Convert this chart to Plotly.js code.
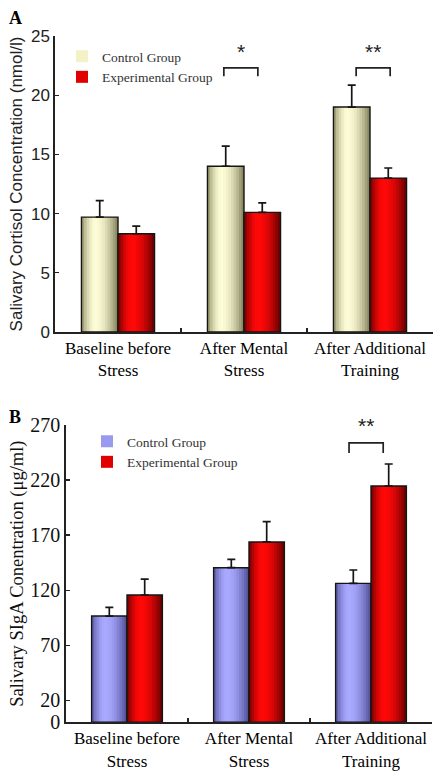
<!DOCTYPE html>
<html>
<head>
<meta charset="utf-8">
<script src="https://cdn.plot.ly/plotly-3.0.1.min.js"></script>
<style>html,body{margin:0;padding:0;background:#fff;}#chart{width:444px;height:777px;}</style>
</head>
<body>
<div id="chart"></div>
<script>
// ---- data ----
const categories = ['Baseline before<br>Stress', 'After Mental<br>Stress', 'After Additional<br>Training'];
const seriesNames = ['Control Group', 'Experimental Group'];
const cortisolControl = [9.7, 14.0, 19.0];
const cortisolControlErr = [1.4, 1.7, 1.85];
const cortisolExp = [8.3, 10.1, 13.0];
const cortisolExpErr = [0.65, 0.8, 0.85];
const sigaControl = [96.5, 140.4, 126.2];
const sigaControlErr = [7.9, 7.6, 12.1];
const sigaExp = [115.6, 163.8, 214.6];
const sigaExpErr = [14.4, 18.4, 20.0];
const sigaTicks = [0, 20, 70, 120, 170, 220, 270];

// ---- styling helpers ----
const SERIF = 'Liberation Serif, Times New Roman, serif';
const SANS = 'Liberation Sans, Arial, sans-serif';
const BW = 0.29;      // bar width in category units
const NSTRIP = 14;

function hex(c){return [parseInt(c.substr(1,2),16),parseInt(c.substr(3,2),16),parseInt(c.substr(5,2),16)];}
function mix(a,b,w){const A=hex(a),B=hex(b);return 'rgb('+A.map((v,i)=>Math.round(v+(B[i]-v)*w)).join(',')+')';}
function shadeAt(t, edgeL, peak, edgeR){
  const p = 0.38;
  if (t < p){ const u=(p-t)/p; return mix(peak, edgeL, Math.pow(u,1.8)); }
  const u=(t-p)/(1-p); return mix(peak, edgeR, Math.pow(u,1.8));
}

const traces = [];
function addSeries(y, err, side, colors, xa, ya, legendName, legendId){
  const left = side === 0 ? -BW : 0;
  const sw = BW / NSTRIP;
  for (let k = 0; k < NSTRIP; k++){
    const t = (k + 0.5) / NSTRIP;
    // nested strips: each strip runs to the right end of the bar, so no gaps appear
    traces.push({
      type:'bar', x:categories, y:y, xaxis:xa, yaxis:ya,
      offset:left + k*sw, width:BW - k*sw,
      marker:{color: shadeAt(t, colors[0], colors[1], colors[2]), line:{width:0}},
      name:legendName, showlegend:false, hoverinfo:'skip'
    });
  }
  // legend entry (hairline bar at the bar's edge, only used for its legend swatch)
  traces.push({
    type:'bar', x:categories, y:y, xaxis:xa, yaxis:ya,
    offset:left, width:0.0001,
    marker:{color:colors[3], line:{width:0}},
    name:legendName, showlegend:true, legend:legendId, hoverinfo:'skip'
  });
  traces.push({
    type:'bar', x:categories, y:y, xaxis:xa, yaxis:ya,
    offset:left, width:BW,
    marker:{color:'rgba(0,0,0,0)', line:{color:'#151515', width:1.4}},
    error_y:{type:'data', symmetric:false, array:err, arrayminus:[0,0,0], color:'#151515', thickness:1.7, width:4},
    showlegend:false, hoverinfo:'skip'
  });
}

const beige = ['#8f8d62', '#fcfcd6', '#7e7c55', '#f2f2c6'];
const red   = ['#6e0000', '#ff0808', '#5e0000', '#e00000'];
const lav   = ['#55559e', '#a9a9ff', '#4a4a90', '#9999ee'];

addSeries(cortisolControl, cortisolControlErr, 0, beige, 'x', 'y', seriesNames[0], 'legend');
addSeries(cortisolExp, cortisolExpErr, 1, red, 'x', 'y', seriesNames[1], 'legend');
addSeries(sigaControl, sigaControlErr, 0, lav, 'x2', 'y2', seriesNames[0], 'legend2');
addSeries(sigaExp, sigaExpErr, 1, red, 'x2', 'y2', seriesNames[1], 'legend2');

// significance brackets: [xref, yref, categoryIndex, leftOffset, rightOffset, topY, legY, starY, label]
const brackets = [
  ['x', 'y', 1, -0.16, 0.11, 22.3, 21.6, 22.55, '*'],
  ['x', 'y', 2, -0.11, 0.16, 22.3, 21.6, 22.55, '**'],
  ['x2', 'y2', 2, -0.18, 0.10, 253.7, 244.6, 257, '**']
];
const shapes = [], annotations = [];
brackets.forEach(b => {
  const x0 = b[2] + b[3], x1 = b[2] + b[4];
  shapes.push({type:'path', xref:b[0], yref:b[1],
    path:`M ${x0},${b[6]} L ${x0},${b[5]} L ${x1},${b[5]} L ${x1},${b[6]}`,
    line:{color:'#222', width:1.7}});
  annotations.push({xref:b[0], yref:b[1], x:(x0+x1)/2, y:b[7], text:b[8], showarrow:false,
    font:{family:SANS, size:21, color:'#222'}, yanchor:'bottom'});
});
annotations.push({xref:'paper', yref:'paper', x:7/444, y:1-18/777, xanchor:'left', yanchor:'middle',
  text:'<b>A</b>', showarrow:false, font:{family:SERIF, size:18, color:'#000'}});
annotations.push({xref:'paper', yref:'paper', x:7/444, y:1-417/777, xanchor:'left', yanchor:'middle',
  text:'<b>B</b>', showarrow:false, font:{family:SERIF, size:18, color:'#000'}});

const axCommon = {showline:true, linecolor:'#222', linewidth:1.7, showgrid:false, zeroline:false,
  ticks:'inside', ticklen:4, tickcolor:'#222', tickwidth:1.3};

const layout = {
  width:444, height:777, margin:{l:0, r:0, t:0, b:0},
  paper_bgcolor:'#fff', plot_bgcolor:'#fff',
  barmode:'overlay', showlegend:true,
  xaxis: Object.assign({}, axCommon, {domain:[55/444, 433/444], anchor:'y', type:'category', range:[-0.5, 2.5],
    tickson:'boundaries', tickfont:{family:SERIF, size:17, color:'#000'}}),
  yaxis: Object.assign({}, axCommon, {domain:[(777-332)/777, (777-36)/777], anchor:'x', range:[0, 25], dtick:5,
    tickfont:{family:SANS, size:17, color:'#222'},
    title:{text:'Salivary Cortisol Concentration (nmol/l)', font:{family:SANS, size:17, color:'#222'}, standoff:4}}),
  xaxis2: Object.assign({}, axCommon, {domain:[66/444, 432/444], anchor:'y2', type:'category', range:[-0.5, 2.5],
    tickson:'boundaries', tickfont:{family:SERIF, size:17, color:'#000'}}),
  yaxis2: Object.assign({}, axCommon, {domain:[(777-722.3)/777, (777-425)/777], anchor:'x2', range:[0, 270],
    tickmode:'array', tickvals:sigaTicks, ticktext:sigaTicks.map(String),
    tickfont:{family:SERIF, size:20, color:'#111'},
    title:{text:'Salivary SIgA Conentration (μg/ml)', font:{family:SERIF, size:18.5, color:'#111'}, standoff:2}}),
  legend:{x:62/444, y:1-41/777, xanchor:'left', yanchor:'top', bgcolor:'rgba(0,0,0,0)',
    font:{family:SERIF, size:13.5, color:'#333'}, tracegroupgap:0, itemwidth:30},
  legend2:{x:87/444, y:1-426/777, xanchor:'left', yanchor:'top', bgcolor:'rgba(0,0,0,0)',
    font:{family:SERIF, size:13.5, color:'#333'}, tracegroupgap:0, itemwidth:30},
  shapes:shapes, annotations:annotations
};

Plotly.newPlot('chart', traces, layout, {displayModeBar:false, staticPlot:true});
</script>
</body>
</html>
